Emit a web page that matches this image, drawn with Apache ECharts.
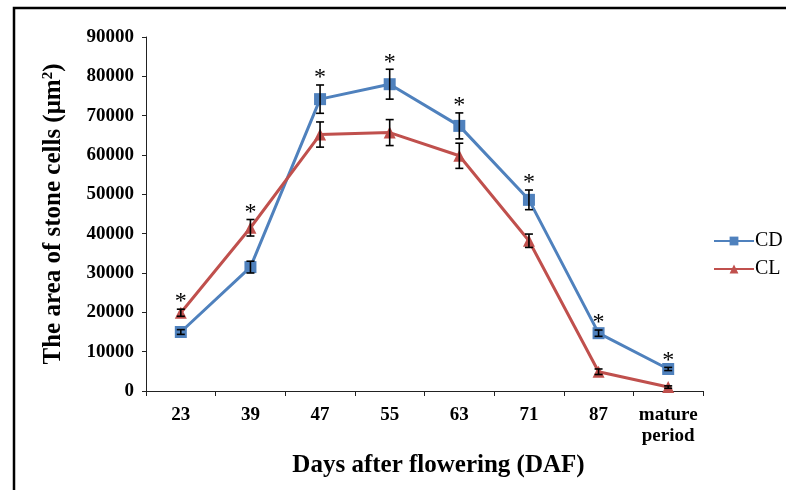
<!DOCTYPE html>
<html>
<head>
<meta charset="utf-8">
<script src="https://cdn.jsdelivr.net/npm/echarts@6/dist/echarts.min.js"></script>
<style>
  html, body { margin: 0; padding: 0; background: #fff; }
  #chart { width: 786px; height: 490px; }
</style>
</head>
<body>
<div id="chart"></div>
<script>
// days after flowering
const categories = ['23', '39', '47', '55', '63', '71', '87', 'mature\nperiod']
const yTicks = [0, 10000, 20000, 30000, 40000, 50000, 60000, 70000, 80000, 90000]

const cdValues = [15000, 31500, 74200, 78000, 67400, 48600, 14700, 5600]
const cdErrors = [600, 1500, 3600, 3800, 3300, 2500, 800, 400]
const clValues = [19900, 41500, 65200, 65700, 59800, 38200, 4900, 1000]
const clErrors = [900, 2100, 3200, 3300, 3200, 1700, 700, 300]
// which series carries the significance star at each point
const starSeries = ['CL', 'CL', 'CD', 'CD', 'CD', 'CD', 'CD', 'CD']

const blue = '#4F81BD'
const red = '#C0504D'
const serif = '"Liberation Serif", "DejaVu Serif", serif'

const chart = echarts.init(document.getElementById('chart'))

function errData(values, errors, name) {
	return values.map((v, i) => [i, v - errors[i], v + errors[i], starSeries[i] === name ? 1 : 0])
}

function renderError(params, api) {
	const x = api.value(0)
	const lo = api.coord([x, api.value(1)])
	const hi = api.coord([x, api.value(2)])
	const cap = 4
	const style = { stroke: '#000', lineWidth: 1.6 }
	const children = [
		{ type: 'line', shape: { x1: hi[0], y1: hi[1], x2: lo[0], y2: lo[1] }, style },
		{ type: 'line', shape: { x1: hi[0] - cap, y1: hi[1], x2: hi[0] + cap, y2: hi[1] }, style },
		{ type: 'line', shape: { x1: lo[0] - cap, y1: lo[1], x2: lo[0] + cap, y2: lo[1] }, style }
	]
	if (api.value(3)) {
		children.push({
			type: 'text',
			x: hi[0],
			y: hi[1] + 5,
			style: {
				text: '*', fill: '#000', font: '24px ' + serif,
				align: 'center', verticalAlign: 'bottom'
			}
		})
	}
	return { type: 'group', children }
}

const option = {
	animation: false,
	backgroundColor: '#fff',
	grid: { left: 146, right: 83, top: 37, bottom: 99 },
	legend: {
		orient: 'vertical',
		left: 708,
		top: 226,
		itemWidth: 40,
		itemHeight: 11,
		itemGap: 8,
		data: ['CD', 'CL'],
		textStyle: { fontFamily: serif, fontSize: 20, color: '#000', padding: [0, 0, 0, -4] }
	},
	xAxis: {
		type: 'category',
		data: categories,
		boundaryGap: true,
		name: 'Days after flowering (DAF)',
		nameLocation: 'middle',
		nameGap: 62,
		nameTextStyle: {
			fontFamily: serif, fontSize: 25, fontWeight: 'bold', color: '#000',
			padding: [0, 0, 0, 28]
		},
		axisLine: { lineStyle: { color: '#222', width: 1 } },
		axisTick: { show: true, length: 5, lineStyle: { color: '#222' } },
		axisLabel: {
			interval: 0, margin: 14, fontFamily: serif, fontSize: 19, fontWeight: 'bold',
			color: '#000', lineHeight: 21
		}
	},
	yAxis: {
		type: 'value',
		min: 0,
		max: 90000,
		interval: 10000,
		name: 'The area of stone cells (μm{sup|2})',
		nameLocation: 'middle',
		nameGap: 80,
		nameTextStyle: {
			fontFamily: serif, fontSize: 25, fontWeight: 'bold', color: '#000',
			rich: {
				sup: { fontFamily: serif, fontSize: 15, fontWeight: 'bold', color: '#000', verticalAlign: 'top', padding: [0, 0, 10, 0] }
			}
		},
		splitLine: { show: false },
		axisLine: { show: true, lineStyle: { color: '#222', width: 1 } },
		axisTick: { show: true, length: 4, lineStyle: { color: '#222' } },
		axisLabel: {
			margin: 12, fontFamily: serif, fontSize: 19, fontWeight: 'bold', color: '#000',
			formatter: v => yTicks.includes(v) ? String(v) : ''
		}
	},
	graphic: [
		{
			type: 'polyline',
			shape: { points: [[14, 490], [14, 8], [786, 8]] },
			style: { stroke: '#000', lineWidth: 2.5, fill: null }
		}
	],
	series: [
		{
			name: 'CD',
			type: 'line',
			data: cdValues,
			color: blue,
			symbol: 'rect',
			symbolSize: 12,
			lineStyle: { width: 3, color: blue },
			itemStyle: { color: blue }
		},
		{
			name: 'CL',
			type: 'line',
			data: clValues,
			color: red,
			symbol: 'triangle',
			symbolSize: 12,
			lineStyle: { width: 3, color: red },
			itemStyle: { color: red }
		},
		{
			name: 'CD err',
			type: 'custom',
			renderItem: renderError,
			data: errData(cdValues, cdErrors, 'CD'),
			z: 5
		},
		{
			name: 'CL err',
			type: 'custom',
			renderItem: renderError,
			data: errData(clValues, clErrors, 'CL'),
			z: 5
		}
	]
}

chart.setOption(option)
</script>
</body>
</html>
